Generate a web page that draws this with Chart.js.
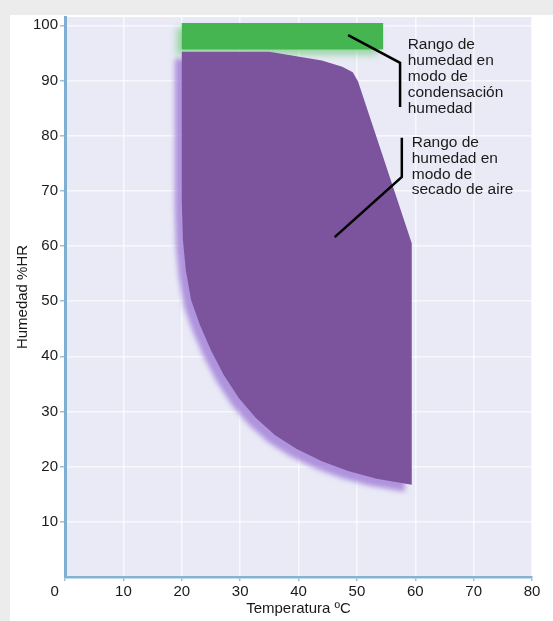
<!DOCTYPE html>
<html>
<head>
<meta charset="utf-8">
<script src="https://cdn.jsdelivr.net/npm/chart.js@4/dist/chart.umd.min.js"></script>
<style>
  html, body { margin: 0; padding: 0; background: #ececec; overflow: hidden; }
  .card { position: absolute; left: 10px; top: 15px; right: 0; bottom: 0; background: #ffffff; }
  .chart-box { position: absolute; left: 0; top: 0; width: 553px; height: 621px; }
</style>
</head>
<body>
<div class="card"></div>
<div class="chart-box"><canvas id="humidityChart"></canvas></div>
<script>
// Axis ticks
const tempTicks = [0, 10, 20, 30, 40, 50, 60, 70, 80];
const humTicks = [10, 20, 30, 40, 50, 60, 70, 80, 90, 100];

// Air drying mode range (purple outline, clockwise from top-left)
const dryingTemp = [20, 35, 44, 47.5, 49.3, 50.2, 59.4, 59.4, 53.4, 48.5, 44.0, 39.7, 36.0, 32.7, 29.8, 27.2, 25.0, 23.1, 21.6, 20.7, 20.2, 20];
const dryingHum = [95.2, 95.2, 93.6, 92.5, 91.5, 89.8, 60.5, 16.7, 17.8, 19.2, 21.0, 23.2, 25.7, 28.8, 32.4, 36.6, 41.1, 45.7, 50.2, 55.6, 61.1, 68.3];

// Wet condensation mode range (green band)
const condensTemp = [20, 54.5, 54.5, 20];
const condensHum = [100.4, 100.4, 95.6, 95.6];

// Leader lines to the notes
const leader1Temp = [48.5, 57.4, 57.4];
const leader1Hum = [98.2, 93.2, 85.2];
const leader2Temp = [57.7, 57.7, 46.2];
const leader2Hum = [79.6, 72.5, 61.6];

// Notes
const noteCondens = ["Rango de", "humedad en", "modo de", "condensación", "humedad"];
const noteDrying = ["Rango de", "humedad en", "modo de", "secado de aire"];

function toPoints(xs, ys) {
  return xs.map(function (x, i) { return { x: x, y: ys[i] }; });
}

const FONT = "'Liberation Sans', Arial, Helvetica, sans-serif";

// plot background
const plotBackground = {
  id: "plotBackground",
  beforeDraw(chart) {
    const a = chart.chartArea;
    const ctx = chart.ctx;
    ctx.save();
    ctx.fillStyle = "#e9eaf6";
    ctx.fillRect(a.left, a.top, a.right - a.left, a.bottom - a.top);
    ctx.restore();
  },
};

// soft shadows under the filled areas, keyed by dataset index
const shadows = {
  1: { color: "rgba(160, 125, 215, 0.8)", blur: 5, dx: -7, dy: 7 },
  2: { color: "rgba(95, 200, 105, 0.6)", blur: 7, dx: -5, dy: 5 },
};
function setShadow(ctx, s) {
  if (!s) {
    ctx.shadowColor = "rgba(0,0,0,0)";
    ctx.shadowBlur = 0;
    ctx.shadowOffsetX = 0;
    ctx.shadowOffsetY = 0;
    return;
  }
  ctx.shadowColor = s.color;
  ctx.shadowBlur = s.blur;
  ctx.shadowOffsetX = s.dx;
  ctx.shadowOffsetY = s.dy;
}
// filler paints in its own beforeDatasetDraw, so the shadow for the
// next dataset has to be set once the previous one is done
const softShadow = {
  id: "softShadow",
  beforeDatasetsDraw(chart) {
    setShadow(chart.ctx, shadows[2]); // green band goes first
  },
  afterDatasetDraw(chart, args) {
    if (args.index === 2) setShadow(chart.ctx, shadows[1]);
    else setShadow(chart.ctx, null);
  },
  afterDatasetsDraw(chart) {
    setShadow(chart.ctx, null);
  },
};

// notes next to the leader lines
const notes = {
  id: "notes",
  afterDatasetsDraw(chart) {
    const ctx = chart.ctx;
    const xs = chart.scales.x;
    const ys = chart.scales.y;
    ctx.save();
    ctx.fillStyle = "#1a1a1a";
    ctx.font = "15.5px " + FONT;
    ctx.textBaseline = "middle";
    ctx.textAlign = "left";
    let x = xs.getPixelForValue(58.7);
    let y = ys.getPixelForValue(96.4);
    noteCondens.forEach(function (t, i) { ctx.fillText(t, x, y + i * 16); });
    x = xs.getPixelForValue(59.4);
    y = ys.getPixelForValue(78.7);
    noteDrying.forEach(function (t, i) { ctx.fillText(t, x, y + i * 15.8); });
    ctx.restore();
  },
};

const ctx = document.getElementById("humidityChart").getContext("2d");
const humidityChart = new Chart(ctx, {
  type: "scatter",
  data: {
    datasets: [
      {
        label: "Leader lines",
        data: toPoints(leader1Temp, leader1Hum),
        showLine: true,
        borderColor: "#000000",
        borderWidth: 2.5,
        pointRadius: 0,
        fill: false,
        order: 0,
      },
      {
        label: "Rango de humedad en modo de secado de aire",
        data: toPoints(dryingTemp, dryingHum),
        showLine: true,
        borderWidth: 0,
        borderColor: "rgba(0,0,0,0)",
        backgroundColor: "#7b549d",
        pointRadius: 0,
        fill: "shape",
        order: 1,
      },
      {
        label: "Rango de humedad en modo de condensación humedad",
        data: toPoints(condensTemp, condensHum),
        showLine: true,
        borderWidth: 0,
        borderColor: "rgba(0,0,0,0)",
        backgroundColor: "#45b552",
        pointRadius: 0,
        fill: "shape",
        order: 2,
      },
      {
        label: "Leader lines 2",
        data: toPoints(leader2Temp, leader2Hum),
        showLine: true,
        borderColor: "#000000",
        borderWidth: 2.5,
        pointRadius: 0,
        fill: false,
        order: 0,
      },
    ],
  },
  options: {
    responsive: true,
    maintainAspectRatio: false,
    animation: false,
    events: [],
    layout: {
      padding: { left: 0, right: 21, top: 17, bottom: 0 },
    },
    plugins: {
      legend: { display: false },
      tooltip: { enabled: false },
    },
    scales: {
      x: {
        type: "linear",
        min: 0,
        max: 80,
        afterBuildTicks: function (scale) {
          scale.ticks = tempTicks.map(function (v) { return { value: v }; });
        },
        afterFit: function (scale) {
          scale.height = 44;
        },
        ticks: {
          color: "#1a1a1a",
          font: { family: FONT, size: 15 },
          padding: 2,
          maxRotation: 0,
          // the 0 sits left of the corner in the original
          callback: function (value) {
            return value === 0 ? "0     " : value;
          },
        },
        grid: {
          color: function (c) {
            return c.tick && c.tick.value === 0 ? "rgba(0,0,0,0)" : "rgba(255,255,255,0.65)";
          },
          lineWidth: 1.5,
          tickColor: "#9fbfd6",
          tickLength: 4,
        },
        border: {
          color: "#86b3d3",
          width: 2.5,
        },
        title: {
          display: true,
          text: "Temperatura ºC",
          color: "#1a1a1a",
          font: { family: FONT, size: 15 },
          padding: { top: 0, bottom: 3 },
        },
      },
      y: {
        type: "linear",
        min: 0,
        max: 101.5,
        afterBuildTicks: function (scale) {
          scale.ticks = humTicks.map(function (v) { return { value: v }; });
        },
        afterFit: function (scale) {
          scale.width = 65;
        },
        ticks: {
          color: "#1a1a1a",
          font: { family: FONT, size: 15 },
          padding: 2,
        },
        grid: {
          color: "rgba(255,255,255,0.65)",
          lineWidth: 1.5,
          tickColor: "#9fbfd6",
          tickLength: 5,
        },
        border: {
          color: "#7fb0d4",
          width: 3,
        },
        title: {
          display: true,
          text: "Humedad %HR",
          color: "#1a1a1a",
          font: { family: FONT, size: 15 },
          padding: { top: 14, bottom: 0 },
        },
      },
    },
  },
  plugins: [plotBackground, softShadow, notes],
});
</script>
</body>
</html>
